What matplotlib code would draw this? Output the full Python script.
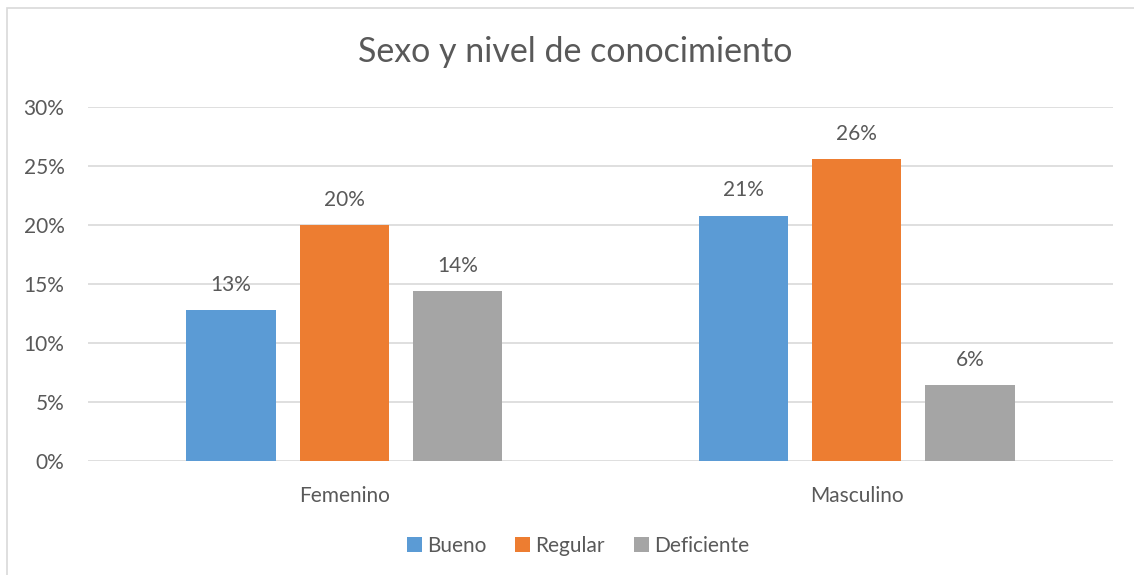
import matplotlib.pyplot as plt
from matplotlib.patches import Rectangle
import numpy as np

plt.rcParams['font.family'] = ['Lato', 'DejaVu Sans']

categorias = ['Femenino', 'Masculino']
niveles = ['Bueno', 'Regular', 'Deficiente']
valores = {
    'Bueno': [0.128, 0.208],
    'Regular': [0.200, 0.256],
    'Deficiente': [0.144, 0.064],
}
colores = ['#5b9bd5', '#ed7d31', '#a5a5a5']
yticks = [0, 0.05, 0.10, 0.15, 0.20, 0.25, 0.30]

texto = '#595959'
grid = '#d9d9d9'

fig = plt.figure(figsize=(11.34, 5.75), dpi=100)
ax = fig.add_axes([88/1134, 114/575, 1025/1134, 354/575])

# borde del grafico
fig.patches.append(Rectangle((7/1134, -0.1), 1.2, (575-8)/575 + 0.1,
                             transform=fig.transFigure, fill=False,
                             edgecolor=grid, linewidth=1.2))

x = np.arange(len(categorias))
ancho = 0.174
paso = 0.221
for i, (nivel, color) in enumerate(zip(niveles, colores)):
    pos = x + (i - 1) * paso
    ax.bar(pos, valores[nivel], ancho, color=color, label=nivel, zorder=3)
    for px, v in zip(pos, valores[nivel]):
        ax.text(px, v + 0.013, f'{round(v*100):.0f}%', ha='center', va='bottom',
                fontsize=15, color=texto)

ax.set_xlim(-0.5, 1.5)
ax.set_ylim(0, 0.30)
ax.set_yticks(yticks)
ax.set_yticklabels([f'{int(round(t*100))}%' for t in yticks])
ax.set_xticks(x)
ax.set_xticklabels(categorias)
ax.tick_params(axis='both', length=0, labelsize=15, colors=texto)
ax.tick_params(axis='y', pad=17)
ax.tick_params(axis='x', pad=18)
ax.grid(axis='y', color=grid, linewidth=1.2, zorder=0)
for s in ax.spines.values():
    s.set_visible(False)

fig.text(575/1134, 1 - 52/575, 'Sexo y nivel de conocimiento', ha='center', va='center',
         fontsize=24.5, color=texto)

fig.legend(loc='center', bbox_to_anchor=(578/1134, 1 - 546/575), ncol=3, frameon=False,
           fontsize=15, labelcolor=texto, handlelength=0.7, handleheight=0.7,
           handletextpad=0.25, columnspacing=1.4)

fig.savefig('out.png', dpi=100)
